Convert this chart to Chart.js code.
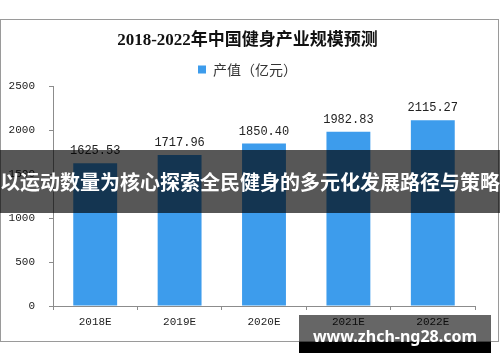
<!DOCTYPE html>
<html>
<head>
<meta charset="utf-8">
<script src="https://cdn.jsdelivr.net/npm/chart.js@4.4.1/dist/chart.umd.min.js"></script>
<style>
  html, body { margin: 0; padding: 0; background: #fff; }
  #wrap { position: relative; width: 500px; height: 362px; overflow: hidden; }
  #chart { position: absolute; left: 0; top: 0; }
  #frame { position: absolute; left: 0; top: 19px; width: 497px; height: 321px; border: 1px solid #9a9a9a; pointer-events: none; }
  #banner { position: absolute; left: 0; top: 150px; width: 500px; height: 63px; background: rgba(0,0,0,0.66);
    color: #fff; font: bold 20px "Noto Sans CJK SC", sans-serif; line-height: 63px; text-align: center; white-space: nowrap; }
  #mark { position: absolute; left: 299px; top: 315px; width: 192px; height: 38px; }
  #mark .top { position: absolute; left: 0; top: 0; width: 192px; height: 27px; background: rgba(0,0,0,0.6); }
  #mark .bot { position: absolute; left: 0; top: 27px; width: 192px; height: 11px; background: #000; }
  #mark .txt { position: absolute; left: 0; top: 11px; width: 192px; text-align: center; color: #fff;
    font: bold 16px "Noto Sans", sans-serif; line-height: 20px; }
</style>
</head>
<body>
<div id="wrap">
  <canvas id="chart" width="500" height="362"></canvas>
  <div id="frame"></div>
  <div id="banner">以运动数量为核心探索全民健身的多元化发展路径与策略</div>
  <div id="mark"><div class="top"></div><div class="bot"></div><div class="txt">www.zhch-ng28.com</div></div>
</div>
<script>
const years = ["2018E", "2019E", "2020E", "2021E", "2022E"];
const output = [1625.53, 1717.96, 1850.40, 1982.83, 2115.27];
const yTicks = [0, 500, 1000, 1500, 2000, 2500];

// draw the value above each bar
const barLabels = {
  id: "barLabels",
  afterDatasetsDraw(chart) {
    const ctx = chart.ctx;
    const meta = chart.getDatasetMeta(0);
    ctx.save();
    ctx.font = '12px "Liberation Mono", monospace';
    ctx.fillStyle = "#222";
    ctx.textAlign = "center";
    ctx.textBaseline = "bottom";
    meta.data.forEach((bar, i) => {
      ctx.fillText(output[i].toFixed(2), bar.x, bar.y - 6);
    });
    ctx.restore();
  }
};

const axisGrey = "#8c8c8c";

new Chart(document.getElementById("chart").getContext("2d"), {
  type: "bar",
  data: {
    labels: years,
    datasets: [{
      label: "产值（亿元）",
      data: output,
      backgroundColor: "#3d9cec",
      borderWidth: 0,
      categoryPercentage: 1,
      barPercentage: 0.52
    }]
  },
  options: {
    responsive: false,
    animation: false,
    layout: { padding: { top: 20, left: 0, right: 5, bottom: 0 } },
    plugins: {
      title: {
        display: true,
        text: "2018-2022年中国健身产业规模预测",
        color: "#111",
        font: { family: '"Liberation Serif", "Noto Sans CJK SC"', size: 17, weight: "bold" },
        padding: { top: 10, bottom: 0 }
      },
      legend: {
        display: true,
        labels: {
          boxWidth: 8,
          boxHeight: 8,
          color: "#333",
          font: { family: '"Noto Sans CJK SC"', size: 14 },
          padding: 12
        }
      },
      tooltip: { enabled: false }
    },
    scales: {
      x: {
        grid: { display: true, drawOnChartArea: false, drawTicks: true, tickLength: 4, color: axisGrey, offset: true },
        border: { color: axisGrey },
        ticks: { color: "#222", font: { family: '"Liberation Mono", monospace', size: 11 }, padding: 5 },
        afterFit: (s) => { s.height = 56; }
      },
      y: {
        min: 0,
        max: 2500,
        afterBuildTicks: (s) => { s.ticks = yTicks.map(v => ({ value: v })); },
        grid: { display: true, drawOnChartArea: false, drawTicks: true, tickLength: 4, color: axisGrey },
        border: { color: axisGrey },
        ticks: { color: "#222", font: { family: '"Liberation Mono", monospace', size: 11 }, padding: 14,
          callback: (v) => String(v) },
        afterFit: (s) => { s.width = 53; }
      },
      // empty spacer on the right so the plot ends where the reference does
      spacer: {
        type: "linear",
        position: "right",
        min: 0,
        max: 1,
        grid: { display: false },
        border: { display: false },
        ticks: { display: false },
        afterFit: (s) => { s.width = 20; }
      }
    }
  },
  plugins: [barLabels]
});
</script>
</body>
</html>
